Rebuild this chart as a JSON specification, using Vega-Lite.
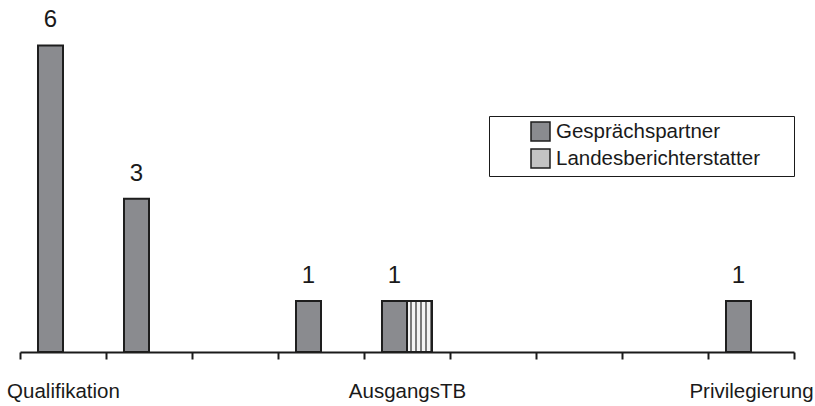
{
  "$schema": "https://vega.github.io/schema/vega-lite/v6.json",
  "width": 774,
  "height": 352,
  "autosize": "none",
  "padding": {"left": 20, "top": 0, "right": 21, "bottom": 54},
  "background": "white",
  "config": {
    "view": {"stroke": null},
    "font": "Liberation Sans, Arial, sans-serif"
  },
  "data": {
    "values": [
      {"thema": "Qualifikation", "gruppe": "Gesprächspartner", "anzahl": 6},
      {"thema": "Thema 2", "gruppe": "Gesprächspartner", "anzahl": 3},
      {"thema": "Thema 4", "gruppe": "Gesprächspartner", "anzahl": 1},
      {"thema": "AusgangsTB", "gruppe": "Gesprächspartner", "anzahl": 1},
      {"thema": "AusgangsTB", "gruppe": "Landesberichterstatter", "anzahl": 1},
      {"thema": "Privilegierung", "gruppe": "Gesprächspartner", "anzahl": 1}
    ]
  },
  "encoding": {
    "x": {
      "field": "thema",
      "type": "nominal",
      "sort": null,
      "scale": {
        "domain": ["Qualifikation", "Thema 2", "Thema 3", "Thema 4", "AusgangsTB", "Thema 6", "Thema 7", "Thema 8", "Privilegierung"],
        "paddingInner": 0,
        "paddingOuter": 0
      },
      "axis": {
        "title": null,
        "labelAngle": 0,
        "labelExpr": "indexof(['Qualifikation', 'AusgangsTB', 'Privilegierung'], datum.value) >= 0 ? datum.value : ''",
        "labelOverlap": false,
        "labelBound": false,
        "labelFontSize": 20.5,
        "labelColor": "#1a1a1a",
        "labelBaseline": "alphabetic",
        "labelPadding": 38,
        "domainColor": "#1a1a1a",
        "domainWidth": 2,
        "tickColor": "#1a1a1a",
        "tickWidth": 2,
        "tickSize": 7,
        "tickBand": "extent",
        "grid": false
      }
    },
    "xOffset": {
      "field": "gruppe",
      "scale": {
        "domain": ["Gesprächspartner", "Landesberichterstatter"],
        "paddingInner": 0,
        "paddingOuter": 0.72
      }
    },
    "y": {
      "field": "anzahl",
      "type": "quantitative",
      "scale": {"domain": [0, 6.89], "nice": false},
      "axis": null
    }
  },
  "layer": [
    {
      "mark": {"type": "bar", "stroke": "#1e1e1e", "strokeWidth": 2},
      "encoding": {
        "fill": {
          "condition": {
            "test": "datum.gruppe === 'Landesberichterstatter'",
            "value": {
              "gradient": "linear",
              "x1": 0, "y1": 0, "x2": 1, "y2": 0,
              "stops": [
                {"offset": 0, "color": "#f4f4f4"},
                {"offset": 0.12, "color": "#f4f4f4"},
                {"offset": 0.12, "color": "#7a7a7a"},
                {"offset": 0.2, "color": "#7a7a7a"},
                {"offset": 0.2, "color": "#f4f4f4"},
                {"offset": 0.32, "color": "#f4f4f4"},
                {"offset": 0.32, "color": "#7a7a7a"},
                {"offset": 0.4, "color": "#7a7a7a"},
                {"offset": 0.4, "color": "#f4f4f4"},
                {"offset": 0.52, "color": "#f4f4f4"},
                {"offset": 0.52, "color": "#7a7a7a"},
                {"offset": 0.6, "color": "#7a7a7a"},
                {"offset": 0.6, "color": "#f4f4f4"},
                {"offset": 0.72, "color": "#f4f4f4"},
                {"offset": 0.72, "color": "#7a7a7a"},
                {"offset": 0.8, "color": "#7a7a7a"},
                {"offset": 0.8, "color": "#f4f4f4"},
                {"offset": 0.92, "color": "#f4f4f4"},
                {"offset": 0.92, "color": "#7a7a7a"},
                {"offset": 1, "color": "#7a7a7a"}
              ]
            }
          },
          "field": "gruppe",
          "type": "nominal",
          "scale": {
            "domain": ["Gesprächspartner", "Landesberichterstatter"],
            "range": ["#8a8b8f", "#c3c3c3"]
          },
          "legend": {
            "orient": "none",
            "legendX": 469,
            "legendY": 116,
            "title": " ",
            "titleOrient": "right",
            "titlePadding": 29,
            "titleFontSize": 10,
            "padding": 5,
            "strokeColor": "#1a1a1a",
            "symbolType": "square",
            "symbolSize": 361,
            "symbolOffset": 36,
            "symbolOpacity": 1,
            "labelFontSize": 20.5,
            "labelColor": "#1a1a1a",
            "labelOffset": 5,
            "labelLimit": 400,
            "rowPadding": 2,
            "encode": {
              "legend": {"strokeWidth": {"value": 2}},
              "symbols": {
                "stroke": {"value": "#1e1e1e"},
                "strokeWidth": {"value": 2},
                "fill": {"value": {"expr": "datum.value === 'Landesberichterstatter' ? {gradient: 'linear', x1: 0, y1: 0, x2: 1, y2: 0, stops: [{offset: 0, color: '#f4f4f4'}, {offset: 0.12, color: '#f4f4f4'}, {offset: 0.12, color: '#7a7a7a'}, {offset: 0.2, color: '#7a7a7a'}, {offset: 0.2, color: '#f4f4f4'}, {offset: 0.32, color: '#f4f4f4'}, {offset: 0.32, color: '#7a7a7a'}, {offset: 0.4, color: '#7a7a7a'}, {offset: 0.4, color: '#f4f4f4'}, {offset: 0.52, color: '#f4f4f4'}, {offset: 0.52, color: '#7a7a7a'}, {offset: 0.6, color: '#7a7a7a'}, {offset: 0.6, color: '#f4f4f4'}, {offset: 0.72, color: '#f4f4f4'}, {offset: 0.72, color: '#7a7a7a'}, {offset: 0.8, color: '#7a7a7a'}, {offset: 0.8, color: '#f4f4f4'}, {offset: 0.92, color: '#f4f4f4'}, {offset: 0.92, color: '#7a7a7a'}, {offset: 1, color: '#7a7a7a'}]} : '#8a8b8f'"}}
              }
            }
          }
        }
      }
    },
    {
      "transform": [{"filter": "datum.gruppe === 'Gesprächspartner'"}],
      "mark": {"type": "text", "baseline": "alphabetic", "dy": -18, "fontSize": 24, "color": "#1a1a1a"},
      "encoding": {"text": {"field": "anzahl", "type": "quantitative"}}
    }
  ]
}
